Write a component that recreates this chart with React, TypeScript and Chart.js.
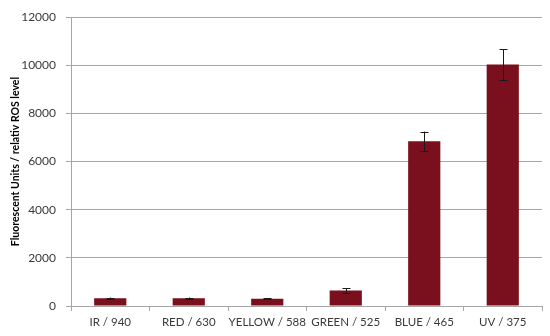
import React, { useEffect, useRef } from "react";
import { Chart, registerables } from "chart.js";

Chart.register(...registerables);

const categories = ["IR / 940", "RED / 630", "YELLOW / 588", "GREEN / 525", "BLUE / 465", "UV / 375"];
const values = [320, 320, 300, 640, 6850, 10030];
const errors = [30, 30, 15, 110, 400, 640];
const yTicks = [0, 2000, 4000, 6000, 8000, 10000, 12000];
const yTitle = "Fluorescent Units / relativ ROS level";

const errorBarPlugin = {
  id: "errorBars",
  afterDatasetsDraw(chart: any) {
    const ctx = chart.ctx;
    const meta = chart.getDatasetMeta(0);
    const y = chart.scales.y;
    ctx.save();
    ctx.strokeStyle = "#1a1a1a";
    ctx.lineWidth = 1;
    meta.data.forEach((bar: any, i: number) => {
      const x = Math.round(bar.x) + 0.5;
      const top = y.getPixelForValue(values[i] + errors[i]);
      const bottom = y.getPixelForValue(values[i] - errors[i]);
      ctx.beginPath();
      ctx.moveTo(x, top);
      ctx.lineTo(x, bottom);
      ctx.moveTo(x - 4, Math.round(top) + 0.5);
      ctx.lineTo(x + 4, Math.round(top) + 0.5);
      ctx.moveTo(x - 4, Math.round(bottom) + 0.5);
      ctx.lineTo(x + 4, Math.round(bottom) + 0.5);
      ctx.stroke();
    });
    ctx.restore();
  },
};

export default function App() {
  const ref = useRef<HTMLCanvasElement>(null);
  useEffect(() => {
    document.body.style.margin = "0";
    const chart = new Chart(ref.current!, {
      type: "bar",
      data: {
        labels: categories,
        datasets: [
          {
            data: values,
            backgroundColor: "#7a0f1e",
            borderWidth: 0,
            categoryPercentage: 1,
            barPercentage: 0.41,
          },
        ],
      },
      options: {
        animation: false,
        responsive: false,
        maintainAspectRatio: false,
        layout: { padding: { top: 15, right: 8, left: 0, bottom: 0 } },
        plugins: { legend: { display: false }, tooltip: { enabled: false } },
        scales: {
          x: {
            offset: true,
            grid: { offset: true, drawOnChartArea: false, drawTicks: true, tickLength: 5, color: "#a6a6a6" },
            border: { display: true, color: "#a6a6a6" },
            ticks: { color: "#3a3a3a", font: { family: "Lato", size: 11.5 }, padding: 4, maxRotation: 0, autoSkip: false },
            afterFit: (s: any) => { s.height = 30; },
          },
          y: {
            min: 0,
            max: 12000,
            afterBuildTicks: (s: any) => { s.ticks = yTicks.map((v) => ({ value: v })); },
            grid: { color: "#a6a6a6", tickLength: 5 },
            border: { display: true, color: "#a6a6a6" },
            ticks: { color: "#3a3a3a", font: { family: "Lato", size: 12 }, padding: 10, callback: (v: any) => String(v) },
            title: { display: true, text: yTitle, color: "#000", font: { family: "Lato", size: 10.5, weight: "bold" }, padding: { top: 9, bottom: 0 } },
            afterFit: (s: any) => { s.width = 71; },
          },
        },
      },
      plugins: [errorBarPlugin],
    });
    return () => chart.destroy();
  }, []);
  return <canvas ref={ref} width={550} height={336} style={{ display: "block" }} />;
}
